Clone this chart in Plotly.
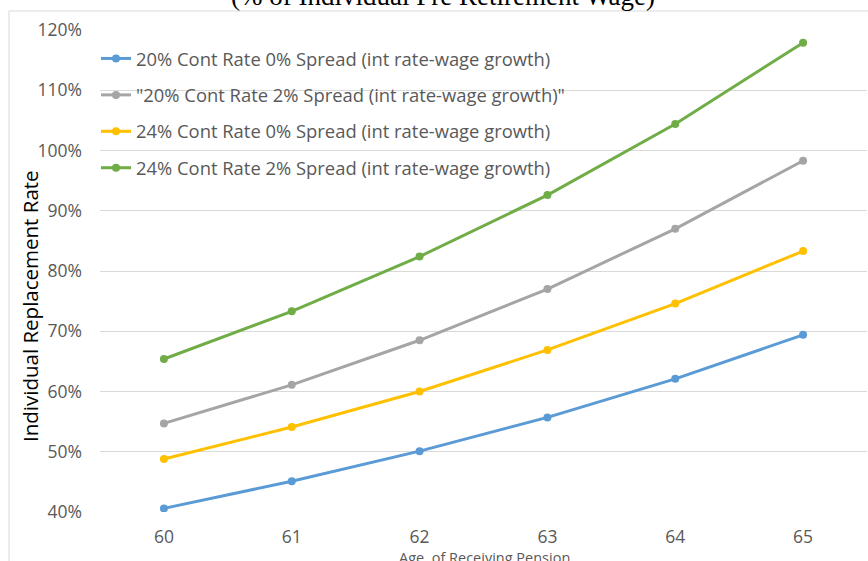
import plotly.graph_objects as go

# Age at which the pension is first received
ages = [60, 61, 62, 63, 64, 65]

# Individual replacement rate (fraction of pre-retirement wage) per scenario
cont20_spread0 = [0.406, 0.451, 0.501, 0.557, 0.621, 0.694]
cont20_spread2 = [0.547, 0.611, 0.685, 0.770, 0.870, 0.983]
cont24_spread0 = [0.488, 0.541, 0.600, 0.669, 0.746, 0.833]
cont24_spread2 = [0.654, 0.733, 0.824, 0.926, 1.044, 1.179]

series_names = [
    "20% Cont Rate 0% Spread (int rate-wage growth)",
    "\"20% Cont Rate 2% Spread (int rate-wage growth)\"",
    "24% Cont Rate 0% Spread (int rate-wage growth)",
    "24% Cont Rate 2% Spread (int rate-wage growth)",
]
series_values = [cont20_spread0, cont20_spread2, cont24_spread0, cont24_spread2]
series_colors = ["#5B9BD5", "#A5A5A5", "#FFC000", "#70AD47"]

W, H = 868, 561
L, R, T, B = 100, 1, 30, 49
plot_w = W - L - R
plot_h = H - T - B

def px_x(p):
    return (p - L) / plot_w

def px_y(p):
    return (H - B - p) / plot_h

fig = go.Figure()
for i, (name, vals, col) in enumerate(zip(series_names, series_values, series_colors)):
    fig.add_trace(go.Scatter(
        x=ages, y=vals, name=name, mode="lines+markers",
        line=dict(color=col, width=3),
        marker=dict(color=col, size=8),
        legendgroup=f"g{i}",
    ))

tick_font = dict(family="Open Sans", size=17.5, color="#595959")

fig.update_layout(
    width=W, height=H,
    margin=dict(l=L, r=R, t=T, b=B, pad=0),
    paper_bgcolor="white", plot_bgcolor="white",
    showlegend=True,
    legend=dict(
        x=px_x(96), y=px_y(40), xanchor="left", yanchor="top",
        bgcolor="rgba(0,0,0,0)", font=dict(family="Open Sans", size=18.4, color="#595959"),
        tracegroupgap=9.5, itemwidth=30,
    ),
    xaxis=dict(
        range=[59.5, 65.5], tickvals=ages, ticktext=[str(a) for a in ages],
        showgrid=False, zeroline=False, showline=False, automargin=False,
        tickfont=tick_font, ticks="", ticklabelstandoff=12,
    ),
    yaxis=dict(
        range=[0.4, 1.2], dtick=0.1, tickformat=".0%", automargin=False,
        showgrid=True, gridcolor="#D9D9D9", gridwidth=1,
        zeroline=False, showline=False,
        tickfont=tick_font, ticks="", ticklabelstandoff=17,
    ),
)

# Horizontal axis title, partly below the visible page
fig.add_annotation(
    text="Age  of Receiving Pension",
    xref="paper", yref="paper", x=px_x(484), y=px_y(557),
    xanchor="center", yanchor="middle", showarrow=False,
    font=dict(family="Open Sans", size=14.5, color="#595959"),
)

# Vertical axis title
fig.add_annotation(
    text="Individual Replacement Rate", textangle=-90,
    xref="paper", yref="paper", x=px_x(30), y=px_y(306),
    xanchor="center", yanchor="middle", showarrow=False,
    font=dict(family="Open Sans", size=20.5, color="black"),
)

# Chart title, partly above the visible page
fig.add_annotation(
    text="(% of Individual Pre Retirement Wage)",
    xref="paper", yref="paper", x=px_x(443), y=px_y(-4),
    xanchor="center", yanchor="middle", showarrow=False,
    font=dict(family="Liberation Serif", size=27, color="black"),
)

# Chart area border
fig.add_shape(
    type="path", xref="paper", yref="paper",
    path=f"M {px_x(9)} {px_y(600)} L {px_x(9)} {px_y(11)} L {px_x(900)} {px_y(11)}",
    line=dict(color="#D9D9D9", width=1),
)

fig.write_html("out.html")
